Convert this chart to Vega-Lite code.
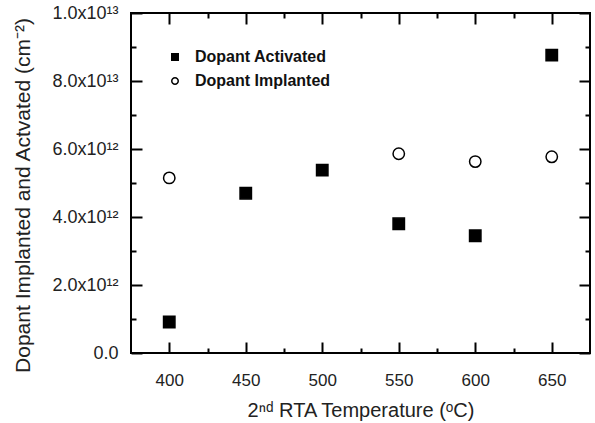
{
  "$schema": "https://vega.github.io/schema/vega-lite/v6.json",
  "width": 459,
  "height": 340,
  "autosize": {"type": "none"},
  "padding": {"left": 131, "top": 13, "right": 5, "bottom": 70},
  "background": "white",
  "config": {
    "view": {"stroke": "black", "strokeWidth": 2},
    "font": "Liberation Sans",
    "axis": {"tickWidth": 2, "tickColor": "black", "domain": false, "grid": false}
  },
  "data": {
    "values": [
      {"temp": 400, "series": "Dopant Activated", "value": 9.1e11},
      {"temp": 450, "series": "Dopant Activated", "value": 4.7e12},
      {"temp": 500, "series": "Dopant Activated", "value": 5.38e12},
      {"temp": 550, "series": "Dopant Activated", "value": 3.8e12},
      {"temp": 600, "series": "Dopant Activated", "value": 3.45e12},
      {"temp": 650, "series": "Dopant Activated", "value": 8.76e12},
      {"temp": 400, "series": "Dopant Implanted", "value": 5.15e12},
      {"temp": 550, "series": "Dopant Implanted", "value": 5.86e12},
      {"temp": 600, "series": "Dopant Implanted", "value": 5.63e12},
      {"temp": 650, "series": "Dopant Implanted", "value": 5.77e12}
    ]
  },
  "layer": [
    {
      "mark": {"type": "point", "stroke": "black", "strokeWidth": 1.5, "opacity": 1, "size": 130},
      "encoding": {
        "x": {
          "field": "temp", "type": "quantitative",
          "scale": {"domain": [375, 675], "nice": false, "zero": false},
          "axis": {
            "orient": "bottom",
            "values": [400, 450, 500, 550, 600, 650],
            "tickSize": -11,
            "labelFontSize": 17, "labelColor": "#222",
            "labelPadding": 30,
            "title": "2ⁿᵈ RTA Temperature (ᵒC)",
            "titleFontSize": 20, "titleFontWeight": "normal", "titleColor": "#222",
            "titlePadding": 12
          }
        },
        "y": {
          "field": "value", "type": "quantitative",
          "scale": {"domain": [0, 1e13], "nice": false},
          "axis": {
            "orient": "left",
            "values": [0, 2e12, 4e12, 6e12, 8e12, 1e13],
            "tickSize": -11,
            "labelExpr": "datum.value == 0 ? '0.0' : round(datum.value/1e12) == 2 ? '2.0x10¹²' : round(datum.value/1e12) == 4 ? '4.0x10¹²' : round(datum.value/1e12) == 6 ? '6.0x10¹²' : round(datum.value/1e12) == 8 ? '8.0x10¹³' : '1.0x10¹³'",
            "labelFontSize": 18, "labelColor": "#222",
            "labelPadding": 24,
            "title": "Dopant Implanted and Actvated (cm⁻²)",
            "titleFontSize": 21, "titleFontWeight": "normal", "titleColor": "#222",
            "titlePadding": 18,
            "titleY": 182
          }
        },
        "shape": {
          "field": "series", "type": "nominal",
          "scale": {"domain": ["Dopant Activated", "Dopant Implanted"], "range": ["square", "circle"]},
          "legend": {
            "orient": "none", "legendX": 36, "legendY": 36, "title": null,
            "symbolSize": 42,
            "labelFontSize": 16, "labelFontWeight": "bold", "labelColor": "#111",
            "labelOffset": 12, "rowPadding": 8, "labelLimit": 300,
            "encode": {"symbols": {"update": {"stroke": {"value": "black"}, "strokeWidth": {"value": 1.5}}}}
          }
        },
        "fill": {
          "field": "series", "type": "nominal",
          "scale": {"domain": ["Dopant Activated", "Dopant Implanted"], "range": ["black", "white"]},
          "legend": {
            "orient": "none", "legendX": 36, "legendY": 36, "title": null,
            "symbolSize": 42,
            "labelFontSize": 16, "labelFontWeight": "bold", "labelColor": "#111",
            "labelOffset": 12, "rowPadding": 8, "labelLimit": 300,
            "encode": {"symbols": {"update": {"stroke": {"value": "black"}, "strokeWidth": {"value": 1.5}}}}
          }
        }
      }
    },
    {
      "mark": {"type": "point", "opacity": 0},
      "encoding": {
        "x": {
          "field": "temp", "type": "quantitative",
          "axis": {"orient": "top", "values": [400, 450, 500, 550, 600, 650], "tickSize": -11, "labels": false, "title": null}
        },
        "y": {
          "field": "value", "type": "quantitative",
          "axis": {"orient": "right", "values": [0, 2e12, 4e12, 6e12, 8e12, 1e13], "tickSize": -11, "labels": false, "title": null}
        }
      }
    },
    {
      "mark": {"type": "point", "opacity": 0},
      "encoding": {
        "x": {
          "field": "temp", "type": "quantitative",
          "axis": {"orient": "bottom", "values": [425, 475, 525, 575, 625], "tickSize": -5, "labels": false, "title": null}
        },
        "y": {
          "field": "value", "type": "quantitative",
          "axis": {"orient": "left", "values": [1e12, 3e12, 5e12, 7e12, 9e12], "tickSize": -5, "labels": false, "title": null}
        }
      }
    },
    {
      "mark": {"type": "point", "opacity": 0},
      "encoding": {
        "x": {
          "field": "temp", "type": "quantitative",
          "axis": {"orient": "top", "values": [425, 475, 525, 575, 625], "tickSize": -5, "labels": false, "title": null}
        },
        "y": {
          "field": "value", "type": "quantitative",
          "axis": {"orient": "right", "values": [1e12, 3e12, 5e12, 7e12, 9e12], "tickSize": -5, "labels": false, "title": null}
        }
      }
    }
  ],
  "resolve": {"axis": {"x": "independent", "y": "independent"}}
}
